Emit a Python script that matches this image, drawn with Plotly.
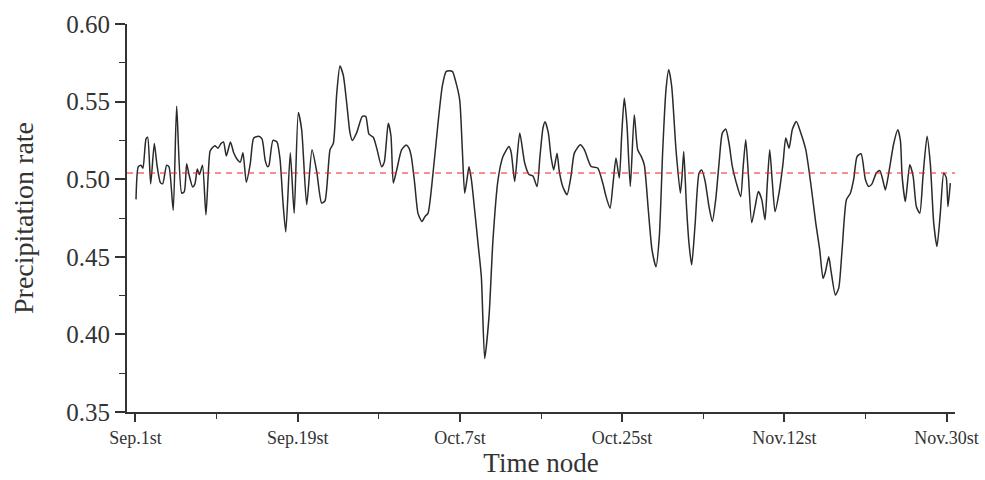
import plotly.graph_objects as go

# Time node, in days after Sep. 1st
days = [
    0.06, 0.31, 0.61, 0.83, 1.17, 1.35, 1.69, 2.09, 2.39, 2.75, 3.02, 3.46, 3.72, 4.19,
    4.57, 5.13, 5.42, 5.68, 5.94, 6.35, 6.60, 6.86, 7.10, 7.44, 7.82, 8.27, 8.49, 8.82,
    9.16, 9.49, 9.77, 10.08, 10.54, 10.90, 11.26, 11.63, 11.93, 12.30, 12.74, 13.12, 13.67,
    14.04, 14.40, 14.67, 14.82, 15.26, 15.70, 16.04, 16.37, 16.68, 17.18, 17.61, 18.07,
    18.44, 19.00, 19.59, 20.11, 20.66, 21.03, 21.59, 21.95, 22.33, 22.69, 23.06, 23.44,
    23.80, 24.06, 24.55, 25.17, 25.55, 25.91, 26.39, 26.77, 27.32, 27.61, 28.05, 28.35,
    28.61, 28.99, 29.54, 30.05, 30.35, 30.61, 30.98, 31.35, 31.79, 32.13, 32.46, 33.02,
    33.57, 34.05, 34.49, 35.16, 35.53, 35.98, 36.27, 36.53, 36.79, 37.01, 37.27, 37.64,
    38.01, 38.38, 38.75, 39.23, 39.67, 40.23, 40.78, 41.45, 41.70, 42.08, 42.64, 43.19,
    43.67, 44.11, 44.56, 44.89, 45.22, 45.45, 45.81, 46.11, 46.41, 46.78, 47.03, 47.41,
    47.89, 48.33, 48.70, 49.36, 49.81, 50.55, 51.29, 51.85, 52.21, 52.66, 52.99, 53.32,
    53.69, 53.95, 54.24, 54.54, 54.91, 55.35, 55.73, 56.10, 56.46, 56.91, 57.32, 57.76,
    58.13, 58.51, 58.87, 59.17, 59.50, 59.98, 60.46, 60.65, 60.84, 61.12, 61.42, 61.72,
    62.09, 62.54, 62.83, 63.20, 63.65, 64.01, 64.39, 64.76, 65.12, 65.50, 65.87, 66.23,
    66.68, 67.16, 67.42, 67.72, 68.01, 68.38, 68.75, 69.12, 69.49, 69.86, 70.11, 70.38,
    70.67, 70.97, 71.41, 71.86, 72.16, 72.53, 72.89, 73.34, 73.82, 74.38, 74.93, 75.49,
    75.93, 76.30, 76.55, 76.93, 77.18, 77.67, 78.04, 78.41, 78.89, 79.33, 79.70, 80.07,
    80.52, 80.99, 81.37, 81.73, 82.21, 82.59, 82.95, 83.21, 83.59, 84.14, 84.59, 84.88,
    85.07, 85.43, 85.92, 86.29, 86.65, 87.03, 87.39, 87.84, 88.20, 88.58, 88.94, 89.31,
    89.69, 89.97, 90.16, 90.42,
]

precipitation_rate = [
    0.487, 0.508, 0.509, 0.507, 0.526, 0.527, 0.497, 0.523, 0.509, 0.498, 0.497, 0.509, 0.508, 0.480,
    0.547, 0.491, 0.492, 0.510, 0.503, 0.495, 0.497, 0.5065, 0.503, 0.509, 0.477, 0.518, 0.520, 0.5215,
    0.520, 0.523, 0.524, 0.515, 0.524, 0.517, 0.513, 0.511, 0.517, 0.498, 0.510, 0.5265, 0.5276,
    0.526, 0.512, 0.508, 0.509, 0.525, 0.524, 0.513, 0.485, 0.466, 0.517, 0.478, 0.543,
    0.532, 0.4835, 0.519, 0.505, 0.4846, 0.486, 0.519, 0.523, 0.555, 0.573, 0.567, 0.549,
    0.530, 0.525, 0.530, 0.5405, 0.5405, 0.529, 0.527, 0.520, 0.508, 0.511, 0.536, 0.528,
    0.4975, 0.506, 0.519, 0.522, 0.520, 0.5146, 0.4975, 0.478, 0.4727, 0.476, 0.478, 0.504,
    0.536, 0.560, 0.5695, 0.5695, 0.563, 0.551, 0.519, 0.491, 0.500, 0.508, 0.500, 0.480,
    0.4587, 0.4372, 0.3845, 0.4113, 0.4609, 0.4996, 0.5146, 0.521, 0.517, 0.4985, 0.5297, 0.5104,
    0.503, 0.502, 0.4953, 0.515, 0.533, 0.537, 0.530, 0.5146, 0.506, 0.5168, 0.505, 0.4953,
    0.490, 0.502, 0.5168, 0.5222, 0.519, 0.5082, 0.5072, 0.4975, 0.489, 0.4813, 0.497, 0.5136,
    0.5007, 0.528, 0.5523, 0.535, 0.4953, 0.5416, 0.519, 0.515, 0.5093, 0.480, 0.4544, 0.4436,
    0.463, 0.519, 0.5577, 0.5706, 0.560, 0.519, 0.491, 0.5017, 0.5179, 0.485, 0.4587, 0.4447,
    0.470, 0.504, 0.506, 0.499, 0.482, 0.4727, 0.487, 0.5104, 0.5297, 0.5323, 0.523, 0.5082,
    0.4975, 0.4888, 0.507, 0.5254, 0.503, 0.472, 0.482, 0.492, 0.487, 0.4738, 0.497, 0.519,
    0.498, 0.4791, 0.491, 0.5104, 0.5265, 0.520, 0.532, 0.5372, 0.530, 0.519, 0.4975, 0.4717,
    0.4544, 0.436, 0.440, 0.450, 0.441, 0.4253, 0.430, 0.4544, 0.4867, 0.491, 0.500, 0.5146,
    0.5164, 0.500, 0.4953, 0.497, 0.504, 0.5056, 0.499, 0.4931, 0.504, 0.523, 0.5319, 0.525,
    0.502, 0.4856, 0.5093, 0.502, 0.4824, 0.478, 0.502, 0.5276, 0.510, 0.4717, 0.4566, 0.478,
    0.504, 0.501, 0.4824, 0.4975,
]

# Reference level shown as the dashed line
mean_rate = 0.504

tick_days = [0, 18, 36, 54, 72, 90]
tick_labels = ["Sep.1st", "Sep.19st", "Oct.7st", "Oct.25st", "Nov.12st", "Nov.30st"]
minor_days = [9, 27, 45, 63, 81]

serif = "Liberation Serif, Times New Roman, serif"
axis_color = "#333333"

fig = go.Figure()

fig.add_trace(go.Scatter(
    x=days,
    y=precipitation_rate,
    mode="lines",
    line=dict(color="#2a2a2a", width=1.5, shape="spline", smoothing=0.6),
    showlegend=False,
    hoverinfo="x+y",
))

fig.add_shape(
    type="line", xref="paper", yref="y",
    x0=0, x1=1, y0=mean_rate, y1=mean_rate,
    line=dict(color="#ee2222", width=1.2, dash="6px,5px"),
)

fig.update_layout(
    width=985, height=480,
    margin=dict(l=127, r=30, t=24, b=68),
    paper_bgcolor="white",
    plot_bgcolor="white",
    font=dict(family=serif, color="#333333"),
)

fig.update_xaxes(
    range=[-0.94, 90.94],
    automargin=False,
    tickmode="array",
    tickvals=tick_days,
    ticktext=tick_labels,
    tickfont=dict(family=serif, size=18, color="#333333"),
    ticks="outside", ticklen=8, tickwidth=1.5, tickcolor=axis_color,
    minor=dict(tickmode="array", tickvals=minor_days, ticks="outside",
               ticklen=5, tickwidth=1.2, tickcolor=axis_color),
    showline=True, linecolor=axis_color, linewidth=2,
    showgrid=False, zeroline=False,
    title=dict(text="Time node", font=dict(family=serif, size=27, color="#333333"), standoff=4),
)

fig.update_yaxes(
    range=[0.35, 0.60],
    automargin=False,
    tickmode="linear", tick0=0.35, dtick=0.05, tickformat=".2f",
    tickfont=dict(family=serif, size=25, color="#333333"),
    ticks="outside", ticklen=10, tickwidth=1.5, tickcolor=axis_color,
    minor=dict(tick0=0.35, dtick=0.025, ticks="outside",
               ticklen=6, tickwidth=1.2, tickcolor=axis_color),
    showline=True, linecolor=axis_color, linewidth=2,
    showgrid=False, zeroline=False,
    title=dict(text="Precipitation rate", font=dict(family=serif, size=28, color="#333333"), standoff=24),
)

fig.write_html("out.html")
